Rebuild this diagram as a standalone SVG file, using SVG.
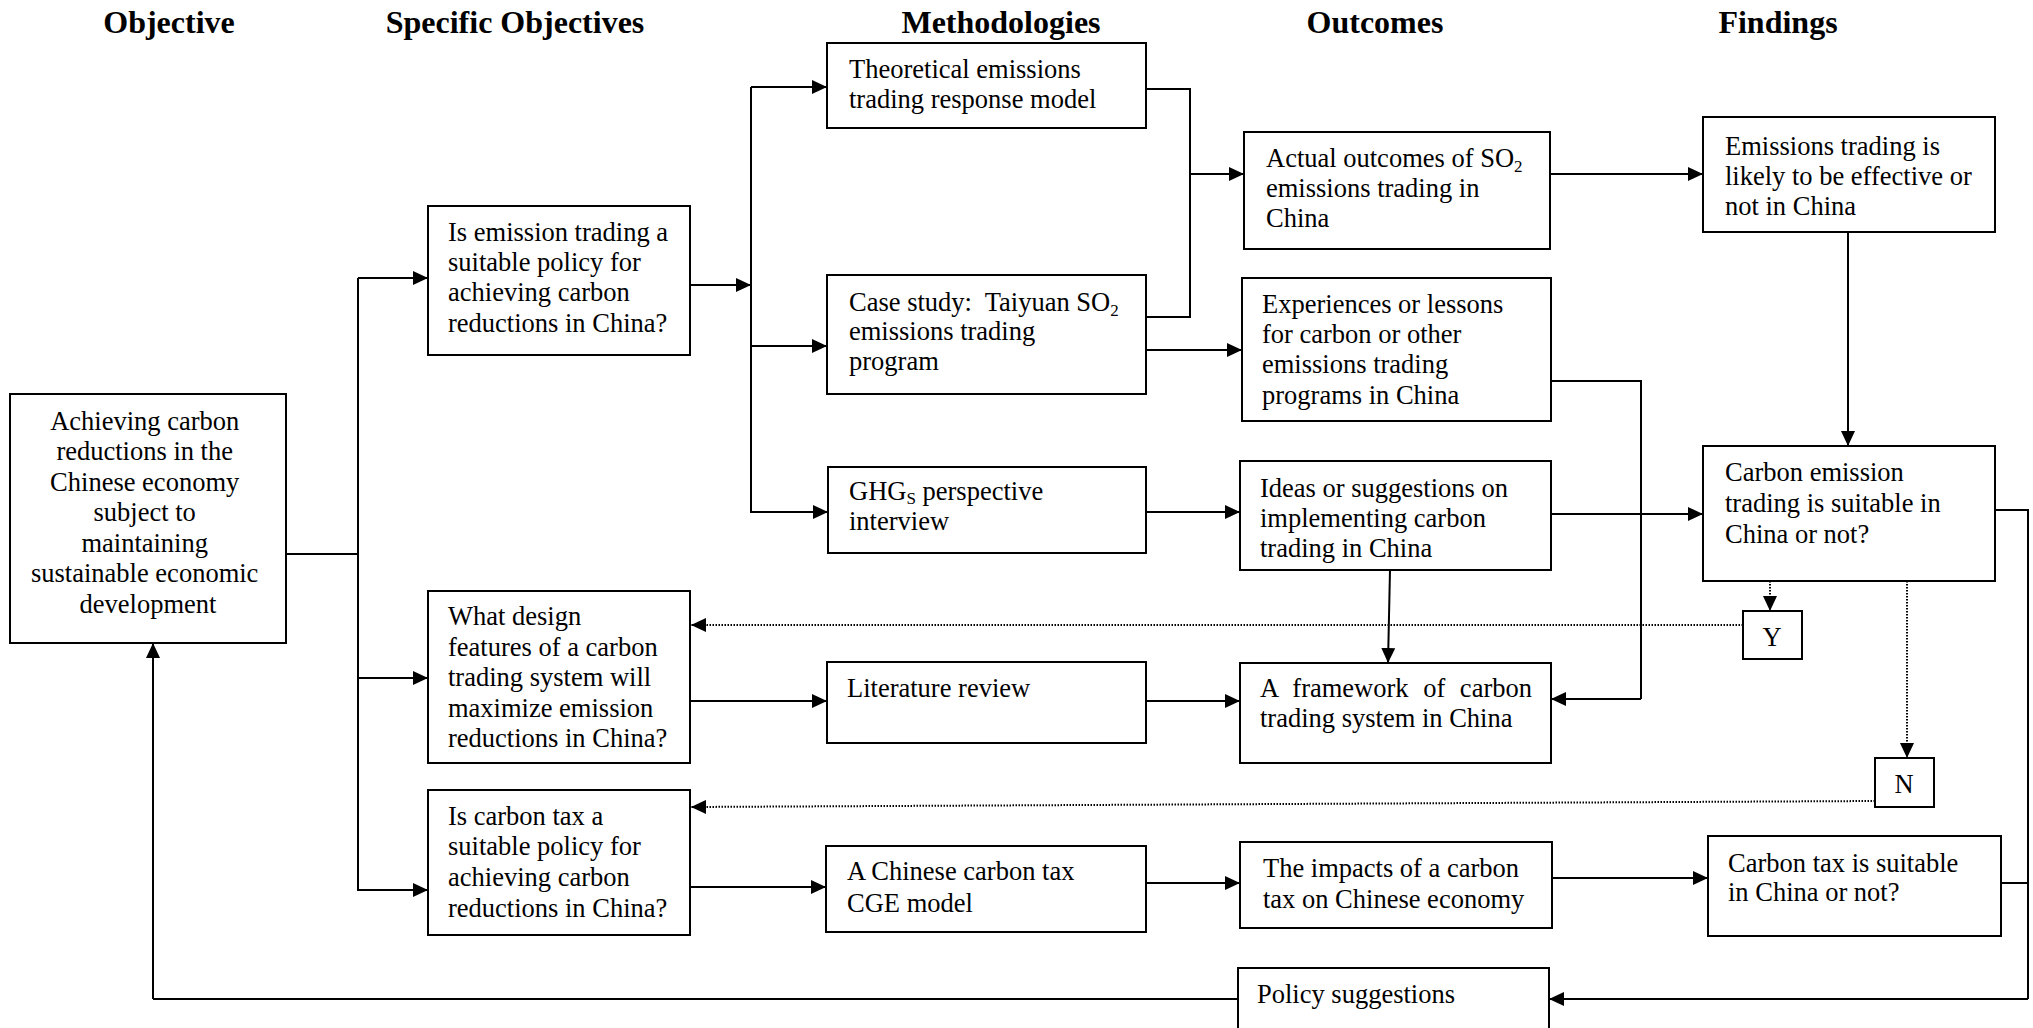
<svg xmlns="http://www.w3.org/2000/svg" width="2033" height="1028" viewBox="0 0 2033 1028">
  <style>
    .box { fill: #ffffff; stroke: #000000; stroke-width: 2; }
    .t { font-family: "Liberation Serif", "Times New Roman", serif; font-size: 26.5px; fill: #000000; }
    .h { font-family: "Liberation Serif", "Times New Roman", serif; font-size: 32px; font-weight: bold; fill: #000000; text-anchor: middle; }
    .sub { font-size: 17px; }
    .ln { fill: none; stroke: #000000; stroke-width: 2; }
    .arr { fill: none; stroke: #000000; stroke-width: 2; marker-end: url(#ah); }
    .dot { fill: none; stroke: #000000; stroke-width: 2; stroke-dasharray: 1.5 1.5; marker-end: url(#ah); }
  </style>
  <defs>
    <marker id="ah" markerUnits="userSpaceOnUse" markerWidth="15" markerHeight="14" refX="15" refY="7" orient="auto">
      <path d="M0,0 L15,7 L0,14 Z" fill="#000000"/>
    </marker>
  </defs>
  <rect width="2033" height="1028" fill="#ffffff"/>

  <!-- column headings -->
  <g id="headings">
    <text class="h" x="169" y="33">Objective</text>
    <text class="h" x="515" y="33">Specific Objectives</text>
    <text class="h" x="1001" y="33">Methodologies</text>
    <text class="h" x="1375" y="33">Outcomes</text>
    <text class="h" x="1778" y="33">Findings</text>
  </g>

  <!-- connectors -->
  <g id="connectors">
    <!-- objective to the three specific objectives -->
    <path class="ln" d="M286,554 H358 M358,278 V891"/>
    <path class="arr" d="M358,278 H428"/>
    <path class="arr" d="M358,678 H428"/>
    <path class="arr" d="M358,890 H428"/>
    <!-- emission trading question to its three methods -->
    <path class="arr" d="M690,285 H751"/>
    <path class="ln" d="M751,87 V513"/>
    <path class="arr" d="M751,87 H827"/>
    <path class="arr" d="M751,346 H827"/>
    <path class="arr" d="M751,512 H828"/>
    <!-- model + case study merge into actual outcomes -->
    <path class="ln" d="M1146,89 H1190 V317 H1146"/>
    <path class="arr" d="M1190,174 H1244"/>
    <path class="arr" d="M1146,350 H1242"/>
    <path class="arr" d="M1550,174 H1703"/>
    <path class="arr" d="M1848,232 V446"/>
    <!-- experiences feed the framework -->
    <path class="ln" d="M1551,381 H1641 V699"/>
    <path class="arr" d="M1641,699 H1551"/>
    <path class="arr" d="M1146,512 H1240"/>
    <path class="arr" d="M1551,514 H1703"/>
    <path class="arr" d="M1390,570 L1388,663"/>
    <path class="arr" d="M1146,701 H1240"/>
    <path class="arr" d="M690,701 H827"/>
    <!-- carbon tax branch -->
    <path class="arr" d="M690,887 H826"/>
    <path class="arr" d="M1146,883 H1240"/>
    <path class="arr" d="M1552,878 H1708"/>
    <!-- findings to policy suggestions and back to the objective -->
    <path class="ln" d="M1995,510 H2028 V999 M2001,883 H2028"/>
    <path class="arr" d="M2028,999 H1549"/>
    <path class="ln" d="M1238,999 H153"/>
    <path class="arr" d="M153,999 V643"/>
    <!-- yes / no decision paths -->
    <path class="dot" d="M1770,581 V611"/>
    <path class="dot" d="M1743,625 H691"/>
    <path class="dot" d="M1907,581 V758"/>
    <path class="dot" d="M1875,801 L691,807"/>
  </g>

  <g id="n-objective">
    <rect class="box" x="10" y="394" width="276" height="249"/>
    <text class="t" text-anchor="middle">
      <tspan x="148" y="430">Achieving carbon</tspan>
      <tspan x="148" y="460">reductions in the</tspan>
      <tspan x="148" y="491">Chinese economy</tspan>
      <tspan x="148" y="521">subject to</tspan>
      <tspan x="148" y="552">maintaining</tspan>
      <tspan x="148" y="582">sustainable economic</tspan>
      <tspan x="148" y="613">development</tspan>
    </text>
  </g>

  <g id="n-so-trading">
    <rect class="box" x="428" y="206" width="262" height="149"/>
    <text class="t">
      <tspan x="448" y="241">Is emission trading a</tspan>
      <tspan x="448" y="271">suitable policy for</tspan>
      <tspan x="448" y="301">achieving carbon</tspan>
      <tspan x="448" y="332">reductions in China?</tspan>
    </text>
  </g>

  <g id="n-so-design">
    <rect class="box" x="428" y="591" width="262" height="172"/>
    <text class="t">
      <tspan x="448" y="625">What design</tspan>
      <tspan x="448" y="656">features of a carbon</tspan>
      <tspan x="448" y="686">trading system will</tspan>
      <tspan x="448" y="717">maximize emission</tspan>
      <tspan x="448" y="747">reductions in China?</tspan>
    </text>
  </g>

  <g id="n-so-tax">
    <rect class="box" x="428" y="790" width="262" height="145"/>
    <text class="t">
      <tspan x="448" y="825">Is carbon tax a</tspan>
      <tspan x="448" y="855">suitable policy for</tspan>
      <tspan x="448" y="886">achieving carbon</tspan>
      <tspan x="448" y="917">reductions in China?</tspan>
    </text>
  </g>

  <g id="n-m-model">
    <rect class="box" x="827" y="43" width="319" height="85"/>
    <text class="t">
      <tspan x="849" y="78">Theoretical emissions</tspan>
      <tspan x="849" y="108">trading response model</tspan>
    </text>
  </g>

  <g id="n-m-case">
    <rect class="box" x="827" y="275" width="319" height="119"/>
    <text class="t" xml:space="preserve"><tspan x="849" y="311">Case study:  Taiyuan SO<tspan class="sub" dy="5">2</tspan></tspan><tspan x="849" y="340">emissions trading</tspan><tspan x="849" y="370">program</tspan></text>
  </g>

  <g id="n-m-interview">
    <rect class="box" x="828" y="467" width="318" height="86"/>
    <text class="t"><tspan x="849" y="500">GHG<tspan class="sub" dy="4">S</tspan><tspan dy="-4"> perspective</tspan></tspan><tspan x="849" y="530">interview</tspan></text>
  </g>

  <g id="n-m-literature">
    <rect class="box" x="827" y="662" width="319" height="81"/>
    <text class="t" x="847" y="697">Literature review</text>
  </g>

  <g id="n-m-cge">
    <rect class="box" x="826" y="846" width="320" height="86"/>
    <text class="t">
      <tspan x="847" y="880">A Chinese carbon tax</tspan>
      <tspan x="847" y="912">CGE model</tspan>
    </text>
  </g>

  <g id="n-o-actual">
    <rect class="box" x="1244" y="132" width="306" height="117"/>
    <text class="t"><tspan x="1266" y="167">Actual outcomes of SO<tspan class="sub" dy="5">2</tspan></tspan><tspan x="1266" y="197">emissions trading in</tspan><tspan x="1266" y="227">China</tspan></text>
  </g>

  <g id="n-o-lessons">
    <rect class="box" x="1242" y="278" width="309" height="143"/>
    <text class="t">
      <tspan x="1262" y="313">Experiences or lessons</tspan>
      <tspan x="1262" y="343">for carbon or other</tspan>
      <tspan x="1262" y="373">emissions trading</tspan>
      <tspan x="1262" y="404">programs in China</tspan>
    </text>
  </g>

  <g id="n-o-ideas">
    <rect class="box" x="1240" y="461" width="311" height="109"/>
    <text class="t">
      <tspan x="1260" y="497">Ideas or suggestions on</tspan>
      <tspan x="1260" y="527">implementing carbon</tspan>
      <tspan x="1260" y="557">trading in China</tspan>
    </text>
  </g>

  <g id="n-o-framework">
    <rect class="box" x="1240" y="663" width="311" height="100"/>
    <text class="t">
      <tspan x="1260" y="697" word-spacing="8">A framework of carbon</tspan>
      <tspan x="1260" y="727">trading system in China</tspan>
    </text>
  </g>

  <g id="n-o-impacts">
    <rect class="box" x="1240" y="842" width="312" height="86"/>
    <text class="t">
      <tspan x="1263" y="877">The impacts of a carbon</tspan>
      <tspan x="1263" y="908">tax on Chinese economy</tspan>
    </text>
  </g>

  <g id="n-o-policy">
    <rect class="box" x="1238" y="968" width="311" height="80"/>
    <text class="t" x="1257" y="1003">Policy suggestions</text>
  </g>

  <g id="n-f-effective">
    <rect class="box" x="1703" y="117" width="292" height="115"/>
    <text class="t">
      <tspan x="1725" y="155">Emissions trading is</tspan>
      <tspan x="1725" y="185">likely to be effective or</tspan>
      <tspan x="1725" y="215">not in China</tspan>
    </text>
  </g>

  <g id="n-f-trading">
    <rect class="box" x="1703" y="446" width="292" height="135"/>
    <text class="t">
      <tspan x="1725" y="481">Carbon emission</tspan>
      <tspan x="1725" y="512">trading is suitable in</tspan>
      <tspan x="1725" y="543">China or not?</tspan>
    </text>
  </g>

  <g id="n-f-tax">
    <rect class="box" x="1708" y="836" width="293" height="100"/>
    <text class="t">
      <tspan x="1728" y="872">Carbon tax is suitable</tspan>
      <tspan x="1728" y="901">in China or not?</tspan>
    </text>
  </g>

  <g id="n-yes">
    <rect class="box" x="1743" y="611" width="59" height="48"/>
    <text class="t" x="1772" y="646" text-anchor="middle">Y</text>
  </g>

  <g id="n-no">
    <rect class="box" x="1875" y="758" width="59" height="49"/>
    <text class="t" x="1904" y="793" text-anchor="middle">N</text>
  </g>
</svg>
